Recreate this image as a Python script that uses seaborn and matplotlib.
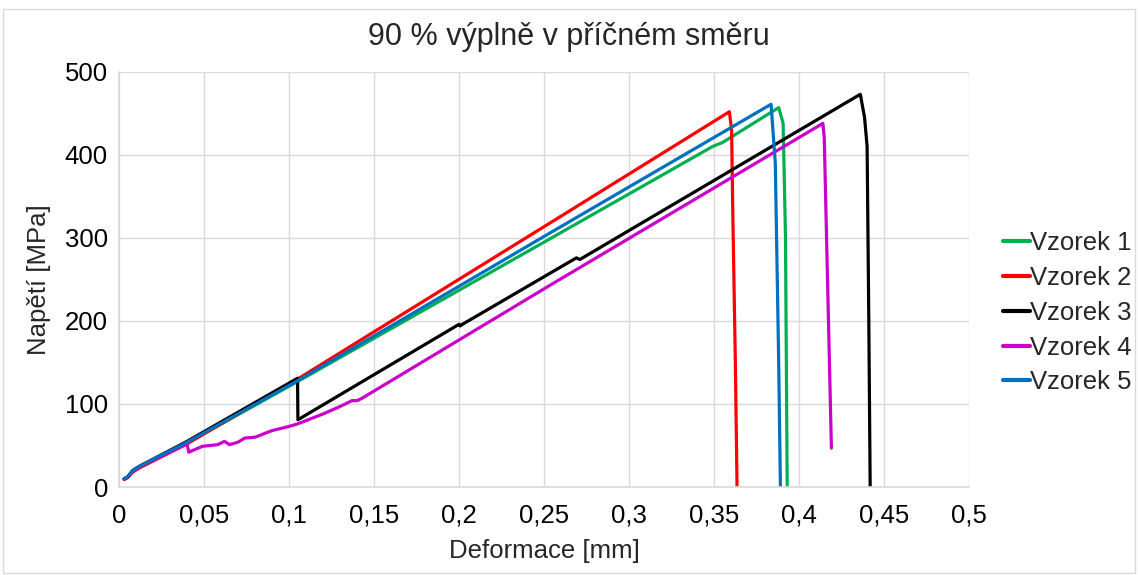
#Stress-strain curves, 90 % infill, transverse direction
import pandas as pd
import numpy as np
import matplotlib.pyplot as plt
import seaborn as sns
from matplotlib.patches import Rectangle

#values
x1 = [0.003, 0.005, 0.008, 0.012, 0.04, 0.105, 0.2535, 0.349, 0.355, 0.388, 0.3906, 0.392, 0.393]
y1 = [10, 12, 19, 24, 53, 127, 299, 410, 415, 457, 438, 300, 0]
x2 = [0.003, 0.005, 0.008, 0.012, 0.04, 0.105, 0.2535, 0.359, 0.3603, 0.361, 0.3625, 0.3635]
y2 = [9, 11, 18, 23, 52, 130, 318, 452, 430, 330, 150, 0]
x3 = [0.003, 0.005, 0.008, 0.012, 0.04, 0.105, 0.1052, 0.2, 0.2006, 0.202, 0.269, 0.271, 0.436, 0.4385, 0.44, 0.441, 0.4418]
y3 = [10, 12, 20, 25, 55, 131, 81, 196, 194, 196, 276, 274, 473, 445, 410, 200, 0]
x4 = [0.003, 0.005, 0.008, 0.012, 0.04, 0.041, 0.049, 0.058, 0.062, 0.065, 0.07, 0.074, 0.08, 0.09, 0.1, 0.105, 0.12, 0.13, 0.137, 0.14, 0.143, 0.2535, 0.414, 0.4148, 0.419]
y4 = [10, 12, 19, 24, 52, 42, 49, 51, 55, 51, 54, 59, 60, 68, 73, 76, 88, 97, 104, 104, 107, 243, 438, 420, 47]
x5 = [0.003, 0.005, 0.008, 0.012, 0.04, 0.105, 0.2535, 0.3835, 0.386, 0.388, 0.389]
y5 = [10, 12, 20, 25, 54, 128, 306, 461, 390, 150, 0]
names = ["Vzorek 1", "Vzorek 2", "Vzorek 3", "Vzorek 4", "Vzorek 5"]
colors = ["#00B050", "#FF0000", "#000000", "#CC00CC", "#0070C0"]
xticks = [0, 0.05, 0.1, 0.15, 0.2, 0.25, 0.3, 0.35, 0.4, 0.45, 0.5]
xlabels = ["0", "0,05", "0,1", "0,15", "0,2", "0,25", "0,3", "0,35", "0,4", "0,45", "0,5"]

frames = []
for name, xs, ys in zip(names, [x1, x2, x3, x4, x5], [y1, y2, y3, y4, y5]):
    frames.append(pd.DataFrame({"x": xs, "y": ys, "vzorek": name}))
df = pd.concat(frames, ignore_index=True)

sns.set_style("whitegrid")
plt.rcParams['font.family'] = ['Liberation Sans', 'DejaVu Sans']

fig = plt.figure(figsize=(11.38, 5.75), dpi=100)
ax = fig.add_axes([0.1046, 0.153, 0.747, 0.722])
sns.lineplot(data=df, x="x", y="y", hue="vzorek", palette=colors, sort=False,
             estimator=None, linewidth=2.3, ax=ax, legend=False)

ax.set_xlim(0, 0.5)
ax.set_ylim(0, 500)
ax.set_xticks(xticks)
ax.set_xticklabels(xlabels)
ax.set_yticks([0, 100, 200, 300, 400, 500])
ax.tick_params(axis="both", labelsize=18.5, length=0, colors="black")
ax.tick_params(axis="x", pad=12)
ax.tick_params(axis="y", pad=8)
ax.grid(True, color="#D9D9D9", linewidth=1)
for side in ["top", "right"]:
    ax.spines[side].set_visible(False)
for side in ["left", "bottom"]:
    ax.spines[side].set_color("#D9D9D9")
    ax.spines[side].set_linewidth(1.2)
ax.set_xlabel("Deformace [mm]", fontsize=18.5, labelpad=8)
ax.set_ylabel("Napětí [MPa]", fontsize=18.5, labelpad=10)
fig.text(0.5, 0.936, "90 % výplně v příčném směru", ha="center", va="center", fontsize=22)

handles = [plt.Line2D([], [], color=c, linewidth=3) for c in colors]
ax.legend(handles, names, loc="center left", bbox_to_anchor=(0.881, 0.456),
          bbox_transform=fig.transFigure, frameon=False, fontsize=18.5,
          handlelength=1.05, handletextpad=0.0, labelspacing=0.42,
          borderpad=0, borderaxespad=0)

fig.patches.append(Rectangle((0.003, 0.003), 0.994, 0.981, transform=fig.transFigure,
                             fill=False, edgecolor="#D9D9D9", linewidth=1))
fig.savefig("out.png", dpi=100)
